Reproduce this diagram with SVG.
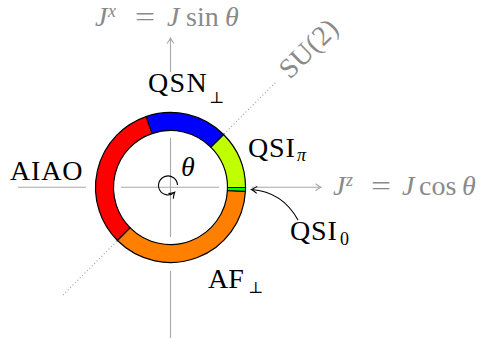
<svg xmlns="http://www.w3.org/2000/svg" width="483" height="341" viewBox="0 0 483 341">
<style>
.gl{stroke:#a8a8a8;stroke-width:1.1;fill:none}
.dot{stroke:#9a9a9a;stroke-width:1.1;fill:none;stroke-dasharray:1 2.4}
.gt{fill:#8a8a8a;font-family:"Liberation Serif",serif;font-size:28px}
.bt{fill:#000;font-family:"Liberation Serif",serif;font-size:28px}
.it{font-style:italic}
.sub{font-size:18px}
.perp{font-family:"DejaVu Serif",serif;font-size:16px}
.seg{stroke:#000;stroke-width:1.2}
</style>
<defs>
<marker id="toG" markerWidth="10" markerHeight="10" refX="8" refY="5" orient="auto" markerUnits="userSpaceOnUse"><path d="M2.5,1.5 Q6,4.2 8,5 Q6,5.8 2.5,8.5" fill="none" stroke="#a8a8a8" stroke-width="1.1"/></marker>
<marker id="toK" markerWidth="10" markerHeight="10" refX="8" refY="5" orient="auto" markerUnits="userSpaceOnUse"><path d="M2.5,1.5 Q6,4.2 8,5 Q6,5.8 2.5,8.5" fill="none" stroke="#000" stroke-width="1.1"/></marker>
</defs>
<rect width="483" height="341" fill="#fff"/>
<g id="connectors">
<line class="dot" x1="63" y1="295" x2="277" y2="81"/>
<line class="gl" x1="170.5" y1="72" x2="170.5" y2="38" marker-end="url(#toG)"/>
<line class="gl" x1="252" y1="187.3" x2="321" y2="187.3" marker-end="url(#toG)"/>
<line class="gl" x1="18" y1="187.3" x2="86" y2="187.3"/>
<line class="gl" x1="170.5" y1="271" x2="170.5" y2="338"/>
<path d="M298,220 C288,202 272,191 251.5,189.5" fill="none" stroke="#000" stroke-width="1.1" marker-end="url(#toK)"/>
</g>
<g id="ring">
<circle cx="170.5" cy="187.5" r="57" fill="#fff"/>
<path class="seg" fill="#bfff00" d="M245.5,187.5 A75,75 0 0 0 223.533,134.467 L210.805,147.195 A57,57 0 0 1 227.5,187.5 Z"/>
<path class="seg" fill="#0000ff" d="M223.533,134.467 A75,75 0 0 0 146.082,116.586 L151.943,133.605 A57,57 0 0 1 210.805,147.195 Z"/>
<path class="seg" fill="#ff0000" d="M146.082,116.586 A75,75 0 0 0 117.467,240.533 L130.195,227.805 A57,57 0 0 1 151.943,133.605 Z"/>
<path class="seg" fill="#ff8000" d="M117.467,240.533 A75,75 0 0 0 245.397,191.426 L227.422,190.483 A57,57 0 0 1 130.195,227.805 Z"/>
<path class="seg" fill="#00ff00" d="M245.397,191.426 A75,75 0 0 0 245.5,187.5 L227.5,187.5 A57,57 0 0 1 227.422,190.483 Z"/>
</g>
<g id="theta-marker">
<line class="gl" x1="121" y1="187.3" x2="219" y2="187.3"/>
<line class="gl" x1="170.5" y1="138" x2="170.5" y2="237"/>
<path d="M177.5,185 A9.5,9.5 0 1 0 174.7,192.2" fill="none" stroke="#000" stroke-width="1.1" marker-end="url(#toK)"/>
<text class="bt it" x="181" y="176" font-size="26">θ</text>
</g>
<g id="label-jx">
<text class="gt it" x="95" y="26">J</text>
<text class="gt it sub" x="108" y="17">x</text>
<text class="gt" x="135" y="26" textLength="20" lengthAdjust="spacingAndGlyphs">=</text>
<text class="gt it" x="167" y="26">J</text>
<text class="gt" x="186" y="26">sin</text>
<text class="gt it" x="225" y="26">θ</text>
</g>
<g id="label-jz">
<text class="gt it" x="333" y="195">J</text>
<text class="gt it sub" x="346" y="186">z</text>
<text class="gt" x="371" y="195" textLength="20" lengthAdjust="spacingAndGlyphs">=</text>
<text class="gt it" x="402" y="195">J</text>
<text class="gt" x="419" y="195">cos</text>
<text class="gt it" x="462" y="195">θ</text>
</g>
<g id="label-su2">
<text class="gt" transform="translate(290,80) rotate(-45)" x="0" y="0" letter-spacing="0.5">SU(2)</text>
</g>
<g id="label-qsn">
<text class="bt" x="148" y="92" letter-spacing="1.3">QSN</text>
<text class="bt perp" x="209" y="103">⊥</text>
</g>
<g id="label-qsipi">
<text class="bt" x="248" y="157" letter-spacing="0.8">QSI</text>
<text class="bt it sub" x="297" y="161">π</text>
</g>
<g id="label-qsi0">
<text class="bt" x="290" y="240" letter-spacing="0.8">QSI</text>
<text class="bt sub" x="340" y="245">0</text>
</g>
<g id="label-aiao">
<text class="bt" x="10" y="180" letter-spacing="0.8">AIAO</text>
</g>
<g id="label-af">
<text class="bt" x="208" y="288">AF</text>
<text class="bt perp" x="248" y="293">⊥</text>
</g>
</svg>
